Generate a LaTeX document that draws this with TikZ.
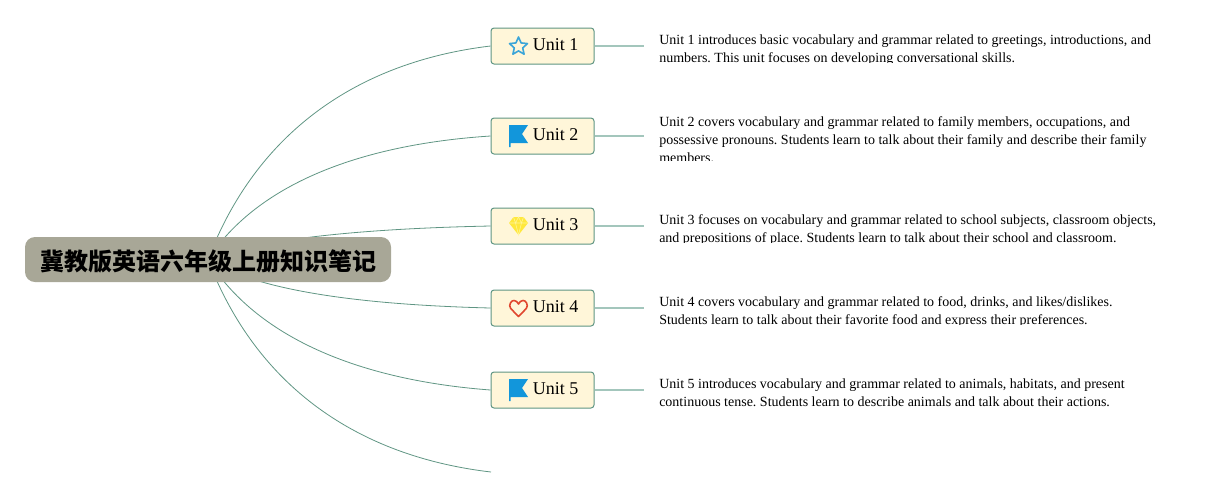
\documentclass[tikz,border=0pt]{standalone}
\usepackage{fontspec}
\setmainfont{Liberation Serif}
\newfontfamily\cjk{Noto Sans CJK SC}
\usetikzlibrary{backgrounds}
\frenchspacing
\definecolor{rootgray}{HTML}{A8A797}
\definecolor{boxfill}{HTML}{FFF6D9}
\definecolor{boxline}{HTML}{5F9583}
\definecolor{stubline}{HTML}{A3C6BC}
\definecolor{iconblue}{HTML}{1296DB}
\definecolor{staricon}{HTML}{3BA5D8}
\definecolor{gemicon}{HTML}{FFE83C}
\definecolor{gemline}{HTML}{FFF59A}
\definecolor{hearticon}{HTML}{E0472F}
\tikzset{
    rootnode/.style={rectangle, rounded corners=7.5pt, fill=rootgray, minimum width=274.5pt, minimum height=33.75pt, inner sep=0pt, font=\cjk\bfseries\fontsize{18}{22}\selectfont},
    unitbox/.style={draw=boxline, line width=0.75pt, rectangle, rounded corners=2.25pt, fill=boxfill, minimum width=77.25pt, minimum height=27pt, inner sep=0pt, font=\fontsize{13.5}{16}\selectfont},
    notetext/.style={anchor=north west, inner sep=0pt, align=left, font=\fontsize{10.5}{13.5}\selectfont},
    branch/.style={draw=boxline, line width=0.6pt},
    stub/.style={draw=stubline, line width=1pt},
    staricon/.pic={\draw[staricon, line width=1.2pt, line join=round] (0,-9.5) -- (2.6,-3.6) -- (9,-2.9) -- (4.2,1.4) -- (5.6,7.7) -- (0,4.4) -- (-5.6,7.7) -- (-4.2,1.4) -- (-9,-2.9) -- (-2.6,-3.6) -- cycle;},
    flagicon/.pic={\fill[iconblue] (-9.5,-11) -- (9.5,-11) -- (3.5,-2) -- (9.5,7) -- (-8,7) -- (-8,11) -- (-9.5,11) -- cycle;},
    gemicon/.pic={\fill[gemicon] (-5,-9) -- (5,-9) -- (9.5,-3) -- (0,9) -- (-9.5,-3) -- cycle;
        \draw[gemline, line width=0.4pt] (-9.5,-3) -- (9.5,-3) (-5,-9) -- (-3,-3) -- (0,9) -- (3,-3) -- (5,-9) (-3,-3) -- (0,-9) -- (3,-3);},
    hearticon/.pic={\draw[hearticon, line width=1.2pt, line join=round] (0,8.5) -- (-7.8,0.5) .. controls (-10.5,-3) and (-7,-8) .. (-4.5,-7.5) .. controls (-2.5,-7.5) and (-1,-6) .. (0,-4) .. controls (1,-6) and (2.5,-7.5) .. (4.5,-7.5) .. controls (7,-8) and (10.5,-3) .. (7.8,0.5) -- cycle;},
}
\newcommand{\iconslot}{\hspace*{19.5pt}}
\newcommand{\unitlabel}[1]{\raisebox{0pt}[10pt][2.6pt]{\iconslot #1}}

\begin{document}
\begin{tikzpicture}[x=0.75pt, y=-0.75pt]
\useasboundingbox (0,0) rectangle (1219,497);

\node[rootnode] (root) at (208,259.5) {\raisebox{-2.2pt}[15pt][3.5pt]{冀教版英语六年级上册知识笔记}};

\node[unitbox] (unit1) at (542.5,46) {\unitlabel{Unit 1}};
\node[unitbox] (unit2) at (542.5,136) {\unitlabel{Unit 2}};
\node[unitbox] (unit3) at (542.5,226) {\unitlabel{Unit 3}};
\node[unitbox] (unit4) at (542.5,308) {\unitlabel{Unit 4}};
\node[unitbox] (unit5) at (542.5,390) {\unitlabel{Unit 5}};

\pic at (518.5,46.5) {staricon};
\pic at (518.5,136) {flagicon};
\pic at (518.5,226) {gemicon};
\pic at (518.5,308) {hearticon};
\pic at (518.5,390) {flagicon};

\coordinate (stub1) at (644,46);
\coordinate (stub2) at (644,136);
\coordinate (stub3) at (644,226);
\coordinate (stub4) at (644,308);
\coordinate (stub5) at (644,390);
\coordinate (unit6) at (491,472);

% branches stay behind the root
\begin{scope}[on background layer]
\draw[branch] (root.center) .. controls (256,133) and (357,62) .. (unit1.west);
\draw[branch] (root.center) .. controls (256,185.7) and (357,144.7) .. (unit2.west);
\draw[branch] (root.center) .. controls (256,239.7) and (357,228.7) .. (unit3.west);
\draw[branch] (root.center) .. controls (256,290) and (357,304.7) .. (unit4.west);
\draw[branch] (root.center) .. controls (256,336.3) and (357,380) .. (unit5.west);
\draw[branch] (root.center) .. controls (256,385.7) and (357,456.3) .. (unit6);
\end{scope}

\draw[stub] (unit1.east) -- (stub1);
\draw[stub] (unit2.east) -- (stub2);
\draw[stub] (unit3.east) -- (stub3);
\draw[stub] (unit4.east) -- (stub4);
\draw[stub] (unit5.east) -- (stub5);

\begin{scope}
\clip (655,28) rectangle (1170,62);
\node[notetext] (note1) at (659,35) {Unit 1 introduces basic vocabulary and grammar related to greetings, introductions, and\\numbers. This unit focuses on developing conversational skills.};
\end{scope}
\begin{scope}
\clip (655,110) rectangle (1170,160);
\node[notetext] (note2) at (659,116) {Unit 2 covers vocabulary and grammar related to family members, occupations, and\\possessive pronouns. Students learn to talk about their family and describe their family\\members.};
\end{scope}
\begin{scope}
\clip (655,208) rectangle (1170,242);
\node[notetext] (note3) at (659,214) {Unit 3 focuses on vocabulary and grammar related to school subjects, classroom objects,\\and prepositions of place. Students learn to talk about their school and classroom.};
\end{scope}
\begin{scope}
\clip (655,290) rectangle (1170,324);
\node[notetext] (note4) at (659,296) {Unit 4 covers vocabulary and grammar related to food, drinks, and likes/dislikes.\\Students learn to talk about their favorite food and express their preferences.};
\end{scope}
\begin{scope}
\clip (655,372) rectangle (1170,406);
\node[notetext] (note5) at (659,379) {Unit 5 introduces vocabulary and grammar related to animals, habitats, and present\\continuous tense. Students learn to describe animals and talk about their actions.};
\end{scope}

\end{tikzpicture}
\end{document}
